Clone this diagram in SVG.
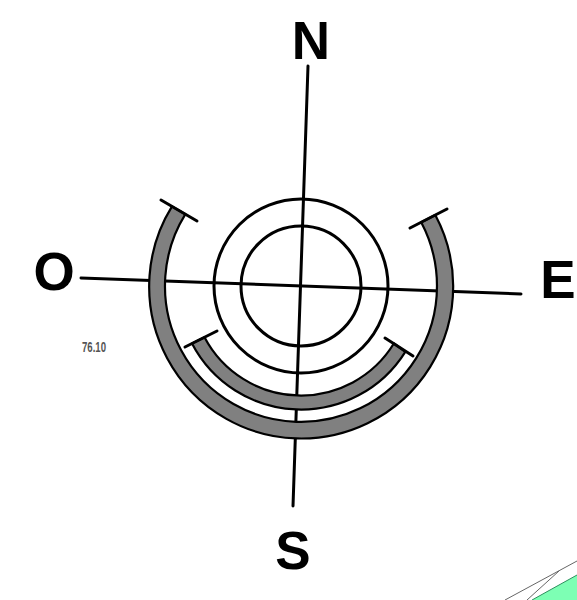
<svg xmlns="http://www.w3.org/2000/svg" width="577" height="600" viewBox="0 0 577 600">
<style>
.l{font-family:"Liberation Sans",Arial,sans-serif;font-weight:bold;font-size:53px;fill:#000;text-anchor:middle}
.k{stroke:#000;stroke-width:3;fill:none;stroke-linecap:round}
.b{fill:#808080;stroke:#000;stroke-width:2.2;stroke-linejoin:round}
.t{stroke:#000;stroke-width:3;stroke-linecap:round;fill:none}
</style>
<rect width="577" height="600" fill="#fff"/>
<g id="connectors">
<path class="k" d="M308 66L293 506"/>
<path class="k" d="M81 278L521 294"/>
</g>
<g id="circle-outer"><circle class="k" cx="301" cy="286" r="87"/></g>
<g id="circle-inner"><circle class="k" cx="301" cy="286" r="60"/></g>
<g id="band-outer">
<path class="b" d="M172 206.4A152 152 0 1 0 435.3 215L421.2 222.3A136 136 0 1 1 185.4 214.2Z"/>
<path class="t" d="M161 200L197 221"/>
<path class="t" d="M410 228L447 209"/>
</g>
<g id="band-inner">
<path class="b" d="M192 343.5A123 123 0 0 0 405.3 351.8L394 343.3A109 109 0 0 1 204.5 337.3Z"/>
<path class="t" d="M185 347L217 331"/>
<path class="t" d="M385 338L413 356"/>
</g>
<g id="label-n"><text class="l" x="311" y="59">N</text></g>
<g id="label-o"><text class="l" x="54" y="290">O</text></g>
<g id="label-e"><text class="l" x="558" y="298">E</text></g>
<g id="label-s"><text class="l" x="293" y="569">S</text></g>
<g id="label-value"><text x="82" y="352" font-family="'Liberation Sans',Arial,sans-serif" font-weight="bold" font-size="14" fill="#555" textLength="24" lengthAdjust="spacingAndGlyphs">76.10</text></g>
<g id="corner">
<path d="M532 600L577 575V600Z" fill="#7dffb4"/>
<path d="M532 600L577 575" stroke="#2f8f5f" stroke-width="1" fill="none"/>
<path d="M505 600L577 561M527 600L559 571" stroke="#666" stroke-width="1" fill="none"/>
</g>
</svg>
